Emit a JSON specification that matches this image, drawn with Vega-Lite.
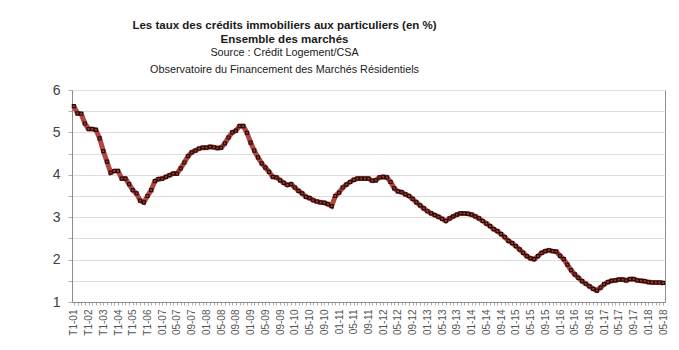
{
  "$schema": "https://vega.github.io/schema/vega-lite/v6.json",
  "width": 593,
  "height": 212,
  "autosize": "none",
  "padding": {"left": 72, "top": 90, "right": 14, "bottom": 48},
  "background": "white",
  "title": {
    "text": ["Les taux des crédits immobiliers aux particuliers (en %)", "Ensemble des marchés"],
    "subtitle": ["Source : Crédit Logement/CSA", "Observatoire du Financement des Marchés Résidentiels"],
    "anchor": "middle",
    "frame": "group",
    "dx": -84,
    "offset": 8,
    "font": "Liberation Sans",
    "fontSize": 11.5,
    "fontWeight": "bold",
    "color": "#1a1a1a",
    "lineHeight": 14,
    "subtitleFont": "Liberation Sans",
    "subtitleFontSize": 10.8,
    "subtitleColor": "#1a1a1a",
    "subtitleLineHeight": 17,
    "subtitlePadding": 2
  },
  "config": {
    "view": {"stroke": "#8c8c8c", "strokeWidth": 1},
    "font": "Liberation Sans"
  },
  "data": {
    "values": [
      {"p": "T1-01", "v": 5.62}, {"p": "T2-01", "v": 5.45}, {"p": "T3-01", "v": 5.44}, {"p": "T4-01", "v": 5.21},
      {"p": "T1-02", "v": 5.08}, {"p": "T2-02", "v": 5.08}, {"p": "T3-02", "v": 5.06}, {"p": "T4-02", "v": 4.86},
      {"p": "T1-03", "v": 4.56}, {"p": "T2-03", "v": 4.31}, {"p": "T3-03", "v": 4.05}, {"p": "T4-03", "v": 4.09},
      {"p": "T1-04", "v": 4.09}, {"p": "T2-04", "v": 3.91}, {"p": "T3-04", "v": 3.91}, {"p": "T4-04", "v": 3.78},
      {"p": "T1-05", "v": 3.64}, {"p": "T2-05", "v": 3.56}, {"p": "T3-05", "v": 3.39}, {"p": "T4-05", "v": 3.35},
      {"p": "T1-06", "v": 3.50}, {"p": "T2-06", "v": 3.64}, {"p": "T3-06", "v": 3.85}, {"p": "T4-06", "v": 3.90},
      {"p": "01-07", "v": 3.91}, {"p": "02-07", "v": 3.95}, {"p": "03-07", "v": 3.99}, {"p": "04-07", "v": 4.03},
      {"p": "05-07", "v": 4.03}, {"p": "06-07", "v": 4.15}, {"p": "07-07", "v": 4.29}, {"p": "08-07", "v": 4.44},
      {"p": "09-07", "v": 4.53}, {"p": "10-07", "v": 4.57}, {"p": "11-07", "v": 4.62}, {"p": "12-07", "v": 4.64},
      {"p": "01-08", "v": 4.64}, {"p": "02-08", "v": 4.66}, {"p": "03-08", "v": 4.65}, {"p": "04-08", "v": 4.63},
      {"p": "05-08", "v": 4.64}, {"p": "06-08", "v": 4.74}, {"p": "07-08", "v": 4.88}, {"p": "08-08", "v": 5.00},
      {"p": "09-08", "v": 5.04}, {"p": "10-08", "v": 5.15}, {"p": "11-08", "v": 5.15}, {"p": "12-08", "v": 4.99},
      {"p": "01-09", "v": 4.76}, {"p": "02-09", "v": 4.57}, {"p": "03-09", "v": 4.41}, {"p": "04-09", "v": 4.27},
      {"p": "05-09", "v": 4.17}, {"p": "06-09", "v": 4.07}, {"p": "07-09", "v": 3.95}, {"p": "08-09", "v": 3.94},
      {"p": "09-09", "v": 3.87}, {"p": "10-09", "v": 3.81}, {"p": "11-09", "v": 3.76}, {"p": "12-09", "v": 3.78},
      {"p": "01-10", "v": 3.70}, {"p": "02-10", "v": 3.62}, {"p": "03-10", "v": 3.56}, {"p": "04-10", "v": 3.48},
      {"p": "05-10", "v": 3.45}, {"p": "06-10", "v": 3.40}, {"p": "07-10", "v": 3.37}, {"p": "08-10", "v": 3.35},
      {"p": "09-10", "v": 3.34}, {"p": "10-10", "v": 3.31}, {"p": "11-10", "v": 3.26}, {"p": "12-10", "v": 3.50},
      {"p": "01-11", "v": 3.58}, {"p": "02-11", "v": 3.70}, {"p": "03-11", "v": 3.77}, {"p": "04-11", "v": 3.83},
      {"p": "05-11", "v": 3.88}, {"p": "06-11", "v": 3.91}, {"p": "07-11", "v": 3.91}, {"p": "08-11", "v": 3.91},
      {"p": "09-11", "v": 3.91}, {"p": "10-11", "v": 3.86}, {"p": "11-11", "v": 3.87}, {"p": "12-11", "v": 3.94},
      {"p": "01-12", "v": 3.95}, {"p": "02-12", "v": 3.94}, {"p": "03-12", "v": 3.83}, {"p": "04-12", "v": 3.68},
      {"p": "05-12", "v": 3.61}, {"p": "06-12", "v": 3.59}, {"p": "07-12", "v": 3.54}, {"p": "08-12", "v": 3.50},
      {"p": "09-12", "v": 3.43}, {"p": "10-12", "v": 3.35}, {"p": "11-12", "v": 3.28}, {"p": "12-12", "v": 3.21},
      {"p": "01-13", "v": 3.14}, {"p": "02-13", "v": 3.09}, {"p": "03-13", "v": 3.05}, {"p": "04-13", "v": 3.01},
      {"p": "05-13", "v": 2.96}, {"p": "06-13", "v": 2.91}, {"p": "07-13", "v": 2.97}, {"p": "08-13", "v": 3.02},
      {"p": "09-13", "v": 3.06}, {"p": "10-13", "v": 3.09}, {"p": "11-13", "v": 3.09}, {"p": "12-13", "v": 3.08},
      {"p": "01-14", "v": 3.06}, {"p": "02-14", "v": 3.02}, {"p": "03-14", "v": 2.97}, {"p": "04-14", "v": 2.91},
      {"p": "05-14", "v": 2.85}, {"p": "06-14", "v": 2.79}, {"p": "07-14", "v": 2.72}, {"p": "08-14", "v": 2.67},
      {"p": "09-14", "v": 2.60}, {"p": "10-14", "v": 2.53}, {"p": "11-14", "v": 2.44}, {"p": "12-14", "v": 2.39},
      {"p": "01-15", "v": 2.32}, {"p": "02-15", "v": 2.24}, {"p": "03-15", "v": 2.16}, {"p": "04-15", "v": 2.08},
      {"p": "05-15", "v": 2.03}, {"p": "06-15", "v": 2.01}, {"p": "07-15", "v": 2.08}, {"p": "08-15", "v": 2.16},
      {"p": "09-15", "v": 2.20}, {"p": "10-15", "v": 2.22}, {"p": "11-15", "v": 2.20}, {"p": "12-15", "v": 2.19},
      {"p": "01-16", "v": 2.09}, {"p": "02-16", "v": 2.01}, {"p": "03-16", "v": 1.88}, {"p": "04-16", "v": 1.75},
      {"p": "05-16", "v": 1.65}, {"p": "06-16", "v": 1.57}, {"p": "07-16", "v": 1.49}, {"p": "08-16", "v": 1.43},
      {"p": "09-16", "v": 1.37}, {"p": "10-16", "v": 1.31}, {"p": "11-16", "v": 1.27}, {"p": "12-16", "v": 1.34},
      {"p": "01-17", "v": 1.42}, {"p": "02-17", "v": 1.47}, {"p": "03-17", "v": 1.50}, {"p": "04-17", "v": 1.51},
      {"p": "05-17", "v": 1.53}, {"p": "06-17", "v": 1.53}, {"p": "07-17", "v": 1.51}, {"p": "08-17", "v": 1.54},
      {"p": "09-17", "v": 1.54}, {"p": "10-17", "v": 1.51}, {"p": "11-17", "v": 1.50}, {"p": "12-17", "v": 1.49},
      {"p": "01-18", "v": 1.47}, {"p": "02-18", "v": 1.46}, {"p": "03-18", "v": 1.46}, {"p": "04-18", "v": 1.46},
      {"p": "05-18", "v": 1.45}
    ]
  },
  "encoding": {
    "x": {
      "field": "p",
      "type": "ordinal",
      "sort": null,
      "scale": {"type": "point", "padding": 0.5},
      "axis": {
        "title": null,
        "labelAngle": 270,
        "labelAlign": "right",
        "labelBaseline": "middle",
        "labelOverlap": false,
        "labelExpr": "test(/^(T1|01|05|09)-/, datum.label) ? datum.label : ''",
        "labelFont": "Liberation Sans",
        "labelFontSize": 10,
        "labelColor": "#555555",
        "labelPadding": 4,
        "tickSize": 3,
        "tickColor": "#b0b0b0",
        "domainColor": "#8c8c8c",
        "grid": false
      }
    },
    "y": {
      "field": "v",
      "type": "quantitative",
      "scale": {"domain": [1, 6], "nice": false, "zero": false},
      "axis": {
        "title": null,
        "values": [1, 1.5, 2, 2.5, 3, 3.5, 4, 4.5, 5, 5.5, 6],
        "labelExpr": "datum.value % 1 === 0 ? format(datum.value, 'd') : ''",
        "labelFont": "Liberation Sans",
        "labelFontSize": 14,
        "labelColor": "#404040",
        "labelPadding": 8,
        "tickSize": 4,
        "tickColor": "#b0b0b0",
        "domainColor": "#8c8c8c",
        "gridColor": "#dedede",
        "gridWidth": 1
      }
    }
  },
  "layer": [
    {"mark": {"type": "line", "color": "#b0463f", "strokeWidth": 5}},
    {"mark": {"type": "point", "shape": "square", "size": 9, "filled": false, "stroke": "#2a0c0a", "strokeWidth": 1.2, "fill": "#a0403a", "fillOpacity": 1, "opacity": 1}}
  ]
}
